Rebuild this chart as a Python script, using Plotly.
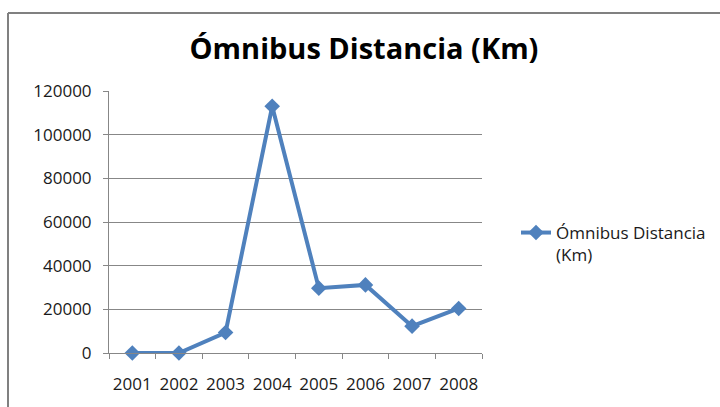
import plotly.graph_objects as go

years = ["2001", "2002", "2003", "2004", "2005", "2006", "2007", "2008"]
distancia_km = [0, 0, 9400, 113000, 29700, 31200, 12300, 20400]
y_ticks = [0, 20000, 40000, 60000, 80000, 100000, 120000]
series_name = "Ómnibus Distancia<br>(Km)"
title_text = "Ómnibus Distancia (Km)"

FONT = "Open Sans"
GRID = "#878787"
BLUE = "#4F81BD"

fig = go.Figure()
fig.add_trace(go.Scatter(
    x=years, y=distancia_km, mode="lines+markers", name=series_name,
    line=dict(color=BLUE, width=4),
    marker=dict(symbol="diamond", size=12, color=BLUE),
    cliponaxis=False,
))

W, H = 720, 407
L, R, T, B = 109, 238, 91, 54

fig.update_layout(
    width=W, height=H,
    margin=dict(l=L, r=R, t=T, b=B, autoexpand=False),
    paper_bgcolor="white", plot_bgcolor="white",
    font=dict(family=FONT, size=17, color="#1a1a1a"),
    title=dict(text="<b>" + title_text + "</b>", x=364 / W, xanchor="center",
               y=1 - 49 / H, yanchor="middle", yref="container",
               font=dict(family=FONT, size=29, color="black")),
    showlegend=True,
    legend=dict(x=(516 - L) / (W - L - R), xanchor="left",
                y=(H - B - 215) / (H - T - B), yanchor="top",
                valign="top", font=dict(family=FONT, size=17, color="#1a1a1a"),
                bgcolor="rgba(0,0,0,0)"),
    xaxis=dict(type="category", range=[-0.5, 7.5], showgrid=False,
               ticks="outside", tickson="boundaries", ticklen=5, tickcolor=GRID,
               showline=True, linecolor=GRID, linewidth=1, tickangle=0,
               automargin=False,
               ticklabelstandoff=16, tickfont=dict(size=17)),
    yaxis=dict(range=[0, 120000], tickvals=y_ticks,
               ticktext=[str(v) for v in y_ticks],
               showgrid=True, gridcolor=GRID, gridwidth=1,
               zeroline=False, showline=True, linecolor=GRID, linewidth=1,
               ticks="outside", ticklen=5, tickcolor=GRID, automargin=False,
               ticklabelstandoff=8, tickfont=dict(size=17)),
)

# outer chart border (left and top edges visible)
pw, ph = W - L - R, H - T - B
def px(xp):
    return (xp - L) / pw
def py(yp):
    return (H - B - yp) / ph
fig.add_shape(type="line", xref="paper", yref="paper",
              x0=px(8), x1=px(8), y0=py(13), y1=py(H + 5),
              line=dict(color="#808080", width=2))
fig.add_shape(type="line", xref="paper", yref="paper",
              x0=px(8), x1=px(W + 5), y0=py(13), y1=py(13),
              line=dict(color="#808080", width=2))

fig.write_html("out.html", config={"displayModeBar": False},
               post_script="document.body.style.margin='0';document.body.style.overflow='hidden';")
